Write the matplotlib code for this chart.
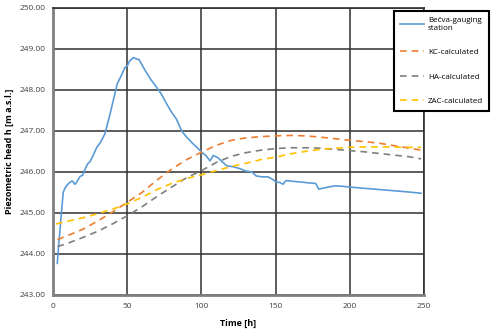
import matplotlib.pyplot as plt

# Measured series (Bečva gauging station)
t_obs = [2.9, 4, 5, 5.8, 6.9, 8, 9.5, 11.5, 13, 14.8, 16, 18.2, 20, 21.6, 23.4,
         25, 27, 29.5, 32, 35, 38, 40, 43.3, 46, 48.5, 50, 51.5, 53, 54, 56,
         58, 60.9, 63, 66, 69.9, 73, 76.6, 80, 83, 86.7, 90, 94, 97, 100.2, 103,
         105.8, 108, 111, 114, 117, 121, 126, 130, 134, 137, 141, 145, 148, 150, 153,
         155, 157, 162, 168, 173, 177, 179, 184, 190, 195, 200, 210, 220, 230, 240,
         248]
h_obs = [243.77, 244.3, 244.7, 245.06, 245.5, 245.6, 245.68, 245.75, 245.78, 245.7,
         245.75, 245.89, 245.92, 246.07, 246.2, 246.25, 246.4, 246.6, 246.72, 246.93,
         247.35, 247.65, 248.15, 248.35, 248.55, 248.58, 248.7, 248.75, 248.79, 248.76,
         248.74, 248.55, 248.42, 248.25, 248.06, 247.9, 247.66, 247.45, 247.3, 247.0,
         246.85, 246.7, 246.6, 246.48, 246.4, 246.27, 246.4, 246.35, 246.25, 246.15,
         246.13, 246.08, 246.02, 246.0, 245.9, 245.88, 245.88, 245.82, 245.76, 245.74,
         245.7, 245.79, 245.77, 245.75, 245.73, 245.72, 245.58, 245.62, 245.66, 245.65,
         245.63, 245.6, 245.57, 245.54, 245.51, 245.48]

# Calculated series
t_calc = [3, 10, 20, 30, 40, 50, 60, 70, 80, 90, 100, 110, 120, 130, 140, 150,
          160, 170, 180, 190, 200, 210, 220, 230, 240, 248]
h_kc = [244.35, 244.45, 244.6, 244.8, 245.02, 245.26, 245.5, 245.8, 246.07, 246.3,
        246.48, 246.65, 246.77, 246.83, 246.86, 246.88, 246.89, 246.88, 246.85, 246.81,
        246.77, 246.74, 246.7, 246.64, 246.58, 246.53]
h_ha = [244.18, 244.26, 244.4, 244.55, 244.73, 244.93, 245.15, 245.4, 245.63, 245.86,
        246.03, 246.23, 246.38, 246.47, 246.53, 246.57, 246.59, 246.59, 246.58, 246.55,
        246.52, 246.49, 246.45, 246.41, 246.37, 246.32]
t_zac = [2, 10, 20, 30, 40, 50, 60, 70, 80, 90, 100, 110, 120, 130, 140, 150,
         160, 170, 180, 190, 200, 210, 220, 230, 240, 248]
h_zac = [244.73, 244.8, 244.88, 244.98, 245.09, 245.22, 245.38, 245.57, 245.72, 245.84,
         245.93, 246.03, 246.13, 246.21, 246.3, 246.36, 246.44, 246.5, 246.55, 246.58,
         246.6, 246.61, 246.61, 246.61, 246.6, 246.6]

plt.rcParams['font.family'] = ['Open Sans', 'DejaVu Sans']

fig = plt.figure(figsize=(5, 3.31), dpi=100)
ax = fig.add_axes([0.106, 0.109, 0.742, 0.867])

ax.plot(t_obs, h_obs, color='#5B9BD5', lw=1.2, label='Bečva-gauging\nstation')
ax.plot(t_calc, h_kc, color='#ED7D31', lw=1.2, ls=(0, (4, 3)), label='KC-calculated')
ax.plot(t_calc, h_ha, color='#7F7F7F', lw=1.2, ls=(0, (4, 3)), label='HA-calculated')
ax.plot(t_zac, h_zac, color='#FFC000', lw=1.2, ls=(0, (4, 3)), label='ZAC-calculated')

ax.set_xlim(0, 250)
ax.set_ylim(243, 250)
ax.set_xticks([0, 50, 100, 150, 200, 250])
ax.set_yticks(range(243, 251))
ax.set_yticklabels([f"{v:.2f}" for v in range(243, 251)])
ax.tick_params(labelsize=6, length=0, colors='#404040')
ax.tick_params(axis='x', pad=6)
ax.tick_params(axis='y', pad=5)
ax.grid(True, color='#303030', lw=1.1)
ax.set_axisbelow(True)
for s in ax.spines.values():
    s.set_color('#303030')
    s.set_linewidth(1.2)
ax.spines['left'].set_color('#808080')
ax.spines['left'].set_linewidth(2)
ax.spines['bottom'].set_color('#808080')
ax.spines['bottom'].set_linewidth(2)

ax.set_xlabel('Time [h]', fontsize=6.5, fontweight='bold', labelpad=6)
ax.set_ylabel('Piezometric head h [m a.s.l.]', fontsize=6.5, fontweight='bold', labelpad=4)

leg = ax.legend(loc='upper left', bbox_to_anchor=(394 / 500, 1 - 11 / 331),
                bbox_transform=fig.transFigure, fontsize=5.8, frameon=True,
                fancybox=False, framealpha=1, edgecolor='black',
                labelspacing=2.1, handlelength=3.0, handletextpad=0.5,
                borderpad=0.7, borderaxespad=0)
leg.get_frame().set_linewidth(1.5)

fig.savefig('out.png', dpi=100)
